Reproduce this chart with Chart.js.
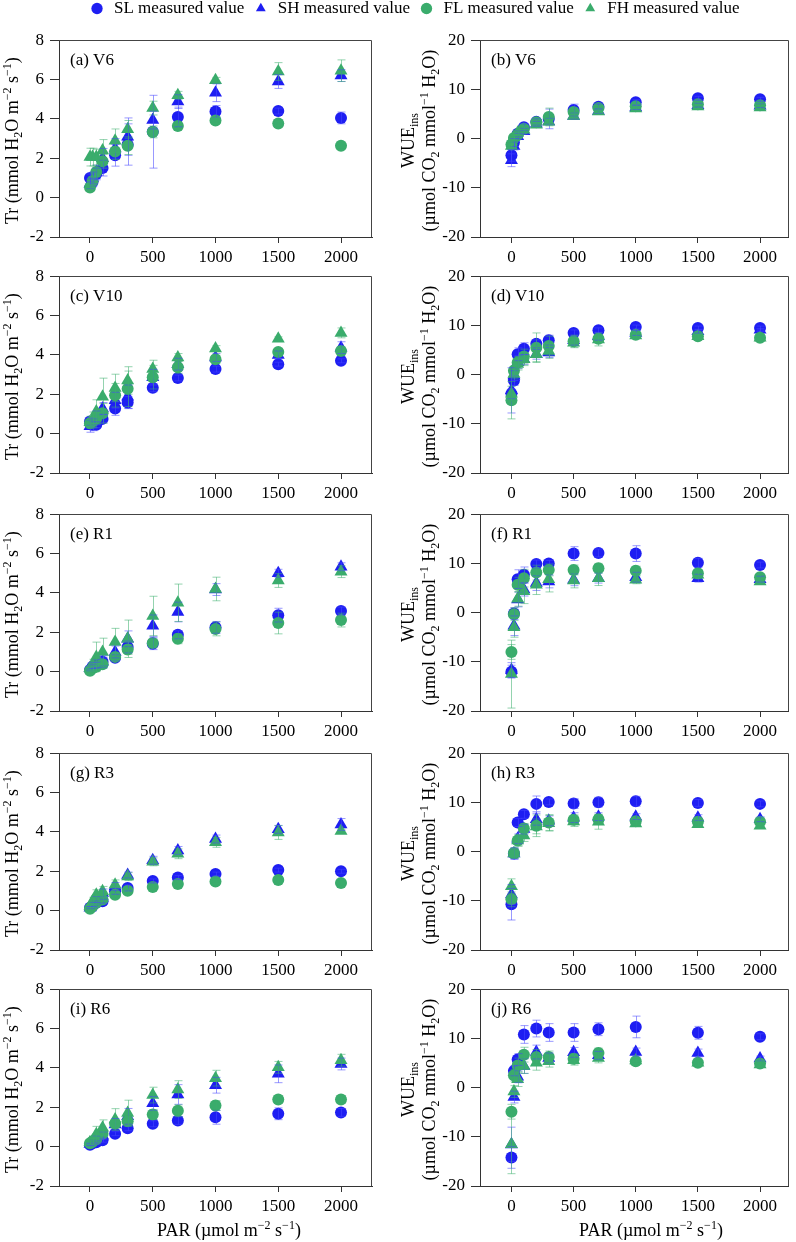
<!DOCTYPE html>
<html>
<head>
<meta charset="utf-8">
<script src="https://cdn.jsdelivr.net/npm/chart.js@4.4.0/dist/chart.umd.min.js"></script>
<style>
	body { margin: 0; background: #fff; width: 796px; height: 1242px; position: relative; overflow: hidden; }
	canvas { position: absolute; }
</style>
</head>
<body>
<canvas id="legend" width="796" height="90" style="left:0;top:-8px"></canvas>
<script>
// PAR levels (x axis)
const par = [0, 20, 50, 100, 200, 300, 500, 700, 1000, 1500, 2000]
const xTicks = [0, 500, 1000, 1500, 2000]
const trTicks = [-2, 0, 2, 4, 6, 8]
const wueTicks = [-20, -10, 0, 10, 20]
const seriesNames = ["SL measured value", "SH measured value", "FL measured value", "FH measured value"]

// Tr, V6
const tr_V6_SL = [1.0, 0.8, 1.2, 1.5, 2.15, 2.7, 3.35, 4.1, 4.38, 4.4, 4.05]
const tr_V6_SH = [0.7, 1.0, 1.3, 2.0, 2.5, 3.1, 3.94, 4.88, 5.33, 5.9, 6.2]
const tr_V6_FL = [0.52, 0.85, 1.3, 1.85, 2.34, 2.64, 3.34, 3.64, 3.92, 3.77, 2.64]
const tr_V6_FH = [2.06, 2.06, 2.06, 2.4, 2.89, 3.47, 4.55, 5.2, 5.96, 6.41, 6.45]
const tr_V6_SL_err = [0.2, 0.2, 0.3, 0.4, 0.55, 1.05, 1.85, 0.5, 0.3, 0.15, 0.3]
const tr_V6_SH_err = [0.25, 0.3, 0.35, 0.5, 0.5, 0.95, 0.45, 0.35, 0.45, 0.35, 0.3]
const tr_V6_FL_err = [0.1, 0.2, 0.25, 0.35, 0.4, 0.45, 0.3, 0.15, 0.15, 0.1, 0.1]
const tr_V6_FH_err = [0.45, 0.45, 0.4, 0.55, 0.6, 0.45, 0.35, 0.2, 0.15, 0.45, 0.55]

// WUEins, V6
const wue_V6_SL = [-3.4, -0.8, 1.0, 2.3, 3.4, 4.0, 5.8, 6.45, 7.4, 8.2, 8.0]
const wue_V6_SH = [-4.4, -1.5, 0.5, 1.5, 3.0, 3.5, 4.6, 5.6, 6.3, 6.8, 6.7]
const wue_V6_FL = [-1.2, 0.1, 0.8, 2.0, 3.3, 4.4, 5.4, 6.2, 6.6, 7.0, 6.8]
const wue_V6_FH = [-1.5, 0.3, 1.2, 1.8, 2.8, 3.4, 4.6, 5.5, 6.1, 6.5, 6.3]
const wue_V6_SL_err = [1.2, 0.8, 0.6, 0.7, 0.6, 2.0, 1.2, 0.6, 0.5, 0.4, 0.4]
const wue_V6_SH_err = [1.3, 0.8, 0.6, 0.6, 0.5, 0.6, 0.6, 0.5, 0.4, 0.4, 0.4]
const wue_V6_FL_err = [0.6, 0.5, 0.5, 0.6, 0.5, 1.8, 0.8, 0.5, 0.4, 0.3, 0.3]
const wue_V6_FH_err = [0.6, 0.5, 0.5, 0.5, 0.5, 0.6, 0.6, 0.5, 0.4, 0.4, 0.4]

// Tr, V10
const tr_V10_SL = [0.62, 0.45, 0.45, 0.75, 1.28, 1.58, 2.33, 2.83, 3.28, 3.53, 3.7]
const tr_V10_SH = [0.37, 0.45, 0.8, 1.28, 1.7, 1.87, 2.87, 3.53, 3.87, 4.0, 4.37]
const tr_V10_FL = [0.53, 0.62, 0.78, 1.03, 1.95, 2.28, 2.87, 3.37, 3.78, 4.15, 4.2]
const tr_V10_FH = [0.58, 0.7, 1.12, 1.87, 2.32, 2.7, 3.28, 3.87, 4.32, 4.82, 5.12]
const tr_V10_SL_err = [0.2, 0.15, 0.15, 0.2, 0.35, 0.3, 0.2, 0.15, 0.15, 0.1, 0.1]
const tr_V10_SH_err = [0.3, 0.3, 0.35, 0.3, 0.4, 0.6, 0.4, 0.3, 0.2, 0.2, 0.3]
const tr_V10_FL_err = [0.15, 0.2, 0.3, 0.5, 0.6, 0.9, 0.6, 0.3, 0.2, 0.15, 0.2]
const tr_V10_FH_err = [0.3, 0.4, 0.6, 0.95, 0.7, 0.7, 0.45, 0.2, 0.15, 0.1, 0.25]

// WUEins, V10
const wue_V10_SL = [-3.9, -1.2, 4.13, 5.27, 6.27, 7.0, 8.47, 9.0, 9.67, 9.47, 9.47]
const wue_V10_SH = [-3.2, -0.2, 2.5, 3.1, 4.13, 4.47, 7.0, 7.8, 8.47, 8.8, 9.1]
const wue_V10_FL = [-5.2, 0.8, 2.47, 3.67, 5.47, 5.8, 6.8, 7.27, 8.1, 7.8, 7.47]
const wue_V10_FH = [-3.87, 0.13, 2.13, 3.13, 4.13, 4.8, 6.47, 7.13, 7.93, 7.8, 7.47]
const wue_V10_SL_err = [1.0, 1.0, 1.3, 1.2, 0.8, 1.0, 0.6, 0.5, 0.4, 0.4, 0.4]
const wue_V10_SH_err = [4.6, 1.0, 1.3, 1.0, 1.0, 1.0, 1.0, 0.8, 0.5, 0.4, 0.3]
const wue_V10_FL_err = [3.8, 1.0, 1.2, 1.5, 3.0, 2.0, 1.2, 0.8, 0.4, 0.4, 0.3]
const wue_V10_FH_err = [1.5, 1.0, 1.2, 1.3, 1.5, 1.5, 1.0, 1.3, 0.5, 0.4, 0.4]

// Tr, R1
const tr_R1_SL = [0.08, 0.25, 0.33, 0.5, 0.7, 1.25, 1.42, 1.87, 2.25, 2.87, 3.08]
const tr_R1_SH = [0.17, 0.3, 0.42, 0.5, 1.0, 1.67, 2.33, 3.03, 4.17, 5.0, 5.33]
const tr_R1_FL = [0.05, 0.17, 0.25, 0.38, 0.75, 1.13, 1.45, 1.67, 2.17, 2.47, 2.62]
const tr_R1_FH = [0.17, 0.33, 0.75, 1.0, 1.5, 1.67, 2.83, 3.5, 4.2, 4.63, 5.08]
const tr_R1_SL_err = [0.05, 0.1, 0.15, 0.2, 0.15, 0.3, 0.3, 0.2, 0.3, 0.35, 0.2]
const tr_R1_SH_err = [0.1, 0.15, 0.2, 0.3, 0.3, 0.4, 0.55, 0.5, 0.3, 0.2, 0.2]
const tr_R1_FL_err = [0.05, 0.1, 0.15, 0.2, 0.2, 0.25, 0.2, 0.25, 0.35, 0.55, 0.35]
const tr_R1_FH_err = [0.1, 0.3, 0.75, 0.7, 0.7, 0.95, 1.0, 0.95, 0.6, 0.35, 0.3]

// WUEins, R1
const wue_R1_SL = [-12.0, -0.2, 6.8, 7.67, 9.87, 10.0, 12.0, 12.13, 12.0, 10.13, 9.67]
const wue_R1_SH = [-11.67, -2.67, 2.67, 4.67, 6.0, 6.33, 6.67, 7.0, 7.2, 7.0, 6.8]
const wue_R1_FL = [-8.0, -0.33, 5.67, 7.0, 8.13, 8.67, 8.67, 9.0, 8.53, 8.0, 7.2]
const wue_R1_FH = [-12.5, -3.0, 2.8, 4.33, 5.67, 6.8, 6.53, 7.0, 6.67, 7.67, 6.33]
const wue_R1_SL_err = [1.3, 1.2, 1.9, 1.6, 0.8, 0.6, 1.4, 0.8, 1.6, 0.9, 0.6]
const wue_R1_SH_err = [1.5, 2.0, 1.5, 1.3, 1.5, 1.3, 1.2, 1.0, 1.0, 0.8, 0.6]
const wue_R1_FL_err = [1.5, 1.3, 1.5, 1.8, 1.5, 1.2, 1.0, 1.0, 0.9, 0.7, 0.6]
const wue_R1_FH_err = [6.9, 2.0, 1.5, 2.5, 2.0, 2.6, 1.5, 1.5, 0.8, 0.8, 0.6]

// Tr, R3
const tr_R3_SL = [0.15, 0.23, 0.4, 0.48, 0.98, 1.15, 1.51, 1.68, 1.86, 2.06, 2.0]
const tr_R3_SH = [0.15, 0.32, 0.56, 0.9, 1.23, 1.81, 2.56, 3.06, 3.64, 4.13, 4.38]
const tr_R3_FL = [0.1, 0.23, 0.4, 0.56, 0.81, 1.01, 1.2, 1.35, 1.48, 1.56, 1.4]
const tr_R3_FH = [0.23, 0.48, 0.81, 0.98, 1.31, 1.73, 2.48, 2.89, 3.47, 3.97, 4.05]
const tr_R3_SL_err = [0.05, 0.08, 0.1, 0.1, 0.15, 0.15, 0.1, 0.1, 0.1, 0.1, 0.1]
const tr_R3_SH_err = [0.05, 0.1, 0.15, 0.2, 0.2, 0.15, 0.2, 0.2, 0.2, 0.2, 0.3]
const tr_R3_FL_err = [0.05, 0.08, 0.1, 0.1, 0.12, 0.1, 0.1, 0.1, 0.1, 0.15, 0.1]
const tr_R3_FH_err = [0.1, 0.2, 0.25, 0.25, 0.25, 0.2, 0.2, 0.25, 0.25, 0.35, 0.1]

// WUEins, R3
const wue_R3_SL = [-10.7, -0.4, 5.9, 7.57, 9.7, 10.1, 9.77, 10.03, 10.23, 9.9, 9.7]
const wue_R3_SH = [-8.7, -0.4, 2.6, 4.58, 6.58, 6.25, 6.9, 7.1, 7.1, 6.9, 6.58]
const wue_R3_FL = [-9.7, -0.27, 2.26, 4.72, 5.25, 5.9, 6.45, 6.58, 6.18, 6.05, 6.05]
const wue_R3_FH = [-7.04, -0.4, 2.26, 3.26, 5.12, 5.78, 6.11, 6.05, 5.71, 5.58, 5.25]
const wue_R3_SL_err = [3.2, 1.0, 0.8, 0.8, 1.6, 0.6, 1.0, 1.0, 1.0, 0.7, 0.6]
const wue_R3_SH_err = [2.0, 1.2, 1.0, 1.0, 1.2, 1.0, 1.0, 0.8, 0.6, 0.6, 0.5]
const wue_R3_FL_err = [1.5, 1.0, 1.2, 1.0, 2.2, 1.6, 1.0, 1.0, 0.6, 0.6, 0.5]
const wue_R3_FH_err = [1.5, 1.0, 1.0, 1.2, 1.5, 1.6, 1.0, 1.5, 0.6, 0.6, 0.5]

// Tr, R6
const tr_R6_SL = [0.1, 0.17, 0.22, 0.33, 0.66, 0.93, 1.16, 1.33, 1.49, 1.67, 1.74]
const tr_R6_SH = [0.13, 0.22, 0.38, 0.55, 1.13, 1.54, 2.2, 2.65, 3.12, 3.7, 4.2]
const tr_R6_FL = [0.17, 0.25, 0.38, 0.66, 1.16, 1.29, 1.63, 1.82, 2.09, 2.4, 2.4]
const tr_R6_FH = [0.22, 0.3, 0.63, 0.96, 1.38, 1.71, 2.62, 2.9, 3.48, 4.03, 4.39]
const tr_R6_SL_err = [0.05, 0.05, 0.08, 0.1, 0.1, 0.12, 0.15, 0.2, 0.35, 0.3, 0.2]
const tr_R6_SH_err = [0.05, 0.1, 0.15, 0.2, 0.3, 0.4, 0.35, 0.5, 0.4, 0.45, 0.3]
const tr_R6_FL_err = [0.05, 0.08, 0.1, 0.12, 0.2, 0.25, 0.25, 0.3, 0.25, 0.2, 0.2]
const tr_R6_FH_err = [0.1, 0.2, 0.4, 0.4, 0.55, 0.65, 0.4, 0.45, 0.4, 0.3, 0.3]

// WUEins, R6
const wue_R6_SL = [-14.2, 3.4, 5.7, 10.8, 12.0, 11.2, 11.2, 11.87, 12.33, 11.14, 10.34]
const wue_R6_SH = [-11.54, -1.92, 2.19, 4.38, 7.23, 6.03, 7.16, 6.56, 7.23, 7.03, 5.9]
const wue_R6_FL = [-4.9, 2.52, 4.5, 6.7, 6.23, 6.23, 5.84, 7.03, 5.37, 5.04, 4.9]
const wue_R6_FH = [-11.5, -0.8, 1.72, 4.38, 5.04, 5.37, 5.57, 6.03, 5.5, 5.04, 4.7]
const wue_R6_SL_err = [2.2, 1.0, 1.2, 1.8, 1.7, 1.8, 1.8, 1.3, 2.2, 1.3, 0.6]
const wue_R6_SH_err = [3.5, 1.2, 1.2, 1.5, 1.4, 1.0, 1.0, 0.8, 0.8, 0.8, 0.5]
const wue_R6_FL_err = [1.5, 1.2, 1.5, 1.5, 1.5, 1.2, 1.0, 1.0, 0.6, 0.5, 0.5]
const wue_R6_FH_err = [6.0, 1.2, 1.5, 1.5, 1.5, 1.2, 1.0, 1.0, 0.6, 0.5, 0.5]

const SERIF = '"Liberation Serif", "Times New Roman", serif'
const BLUE = "#1e1ef2"
const GREEN = "#3aac6c"
const seriesStyle = [
	{color: BLUE, err: "rgba(70,70,255,0.55)", shape: "circle", r: 6},
	{color: BLUE, err: "rgba(70,70,255,0.55)", shape: "triangle", r: 7.5},
	{color: GREEN, err: "rgba(60,175,110,0.55)", shape: "circle", r: 6},
	{color: GREEN, err: "rgba(60,175,110,0.55)", shape: "triangle", r: 7.5}
]

const panels = [
	{label: "(a) V6", kind: "tr", row: 0, vals: [tr_V6_SL, tr_V6_SH, tr_V6_FL, tr_V6_FH], errs: [tr_V6_SL_err, tr_V6_SH_err, tr_V6_FL_err, tr_V6_FH_err]},
	{label: "(b) V6", kind: "wue", row: 0, vals: [wue_V6_SL, wue_V6_SH, wue_V6_FL, wue_V6_FH], errs: [wue_V6_SL_err, wue_V6_SH_err, wue_V6_FL_err, wue_V6_FH_err]},
	{label: "(c) V10", kind: "tr", row: 1, vals: [tr_V10_SL, tr_V10_SH, tr_V10_FL, tr_V10_FH], errs: [tr_V10_SL_err, tr_V10_SH_err, tr_V10_FL_err, tr_V10_FH_err]},
	{label: "(d) V10", kind: "wue", row: 1, vals: [wue_V10_SL, wue_V10_SH, wue_V10_FL, wue_V10_FH], errs: [wue_V10_SL_err, wue_V10_SH_err, wue_V10_FL_err, wue_V10_FH_err]},
	{label: "(e) R1", kind: "tr", row: 2, vals: [tr_R1_SL, tr_R1_SH, tr_R1_FL, tr_R1_FH], errs: [tr_R1_SL_err, tr_R1_SH_err, tr_R1_FL_err, tr_R1_FH_err]},
	{label: "(f) R1", kind: "wue", row: 2, vals: [wue_R1_SL, wue_R1_SH, wue_R1_FL, wue_R1_FH], errs: [wue_R1_SL_err, wue_R1_SH_err, wue_R1_FL_err, wue_R1_FH_err]},
	{label: "(g) R3", kind: "tr", row: 3, vals: [tr_R3_SL, tr_R3_SH, tr_R3_FL, tr_R3_FH], errs: [tr_R3_SL_err, tr_R3_SH_err, tr_R3_FL_err, tr_R3_FH_err]},
	{label: "(h) R3", kind: "wue", row: 3, vals: [wue_R3_SL, wue_R3_SH, wue_R3_FL, wue_R3_FH], errs: [wue_R3_SL_err, wue_R3_SH_err, wue_R3_FL_err, wue_R3_FH_err]},
	{label: "(i) R6", kind: "tr", row: 4, vals: [tr_R6_SL, tr_R6_SH, tr_R6_FL, tr_R6_FH], errs: [tr_R6_SL_err, tr_R6_SH_err, tr_R6_FL_err, tr_R6_FH_err]},
	{label: "(j) R6", kind: "wue", row: 4, vals: [wue_R6_SL, wue_R6_SH, wue_R6_FL, wue_R6_FH], errs: [wue_R6_SL_err, wue_R6_SH_err, wue_R6_FL_err, wue_R6_FH_err]}
]

const rowTops = [36, 272, 510, 749, 985]

// axis titles with sub/superscripts
const seg = (t, k) => ({t, k: k || "n"})
const trTitle = [seg("Tr (mmol H"), seg("2", "sub"), seg("O m"), seg("\u22122", "sup"), seg(" s"), seg("\u22121", "sup"), seg(")")]
const wueTitle1 = [seg("WUE"), seg("ins", "sub")]
const wueTitle2 = [seg("(\u00b5mol CO"), seg("2", "sub"), seg(" mmol"), seg("\u22121", "sup"), seg(" H"), seg("2", "sub"), seg("O)")]
const parTitle = [seg("PAR (\u00b5mol m"), seg("\u22122", "sup"), seg(" s"), seg("\u22121", "sup"), seg(")")]

const drawRich = (ctx, parts, cx, cy, size, rot) => {
	const fontOf = k => (k === "n" ? size : Math.round(size * 0.68)) + "px " + SERIF
	ctx.save()
	ctx.translate(cx, cy)
	if (rot) ctx.rotate(-Math.PI / 2)
	let w = 0
	const ws = parts.map(p => { ctx.font = fontOf(p.k); const m = ctx.measureText(p.t).width; w += m; return m })
	let x = -w / 2
	ctx.fillStyle = "#000"
	ctx.textBaseline = "alphabetic"
	ctx.textAlign = "left"
	parts.forEach((p, i) => {
		ctx.font = fontOf(p.k)
		const dy = p.k === "sub" ? size * 0.22 : p.k === "sup" ? -size * 0.38 : 0
		ctx.fillText(p.t, x, size * 0.33 + dy)
		x += ws[i]
	})
	ctx.restore()
}

const makeDeco = (p, left, last) => ({
	id: "deco",
	afterDatasetsDraw(chart) {
		const {ctx, chartArea: a} = chart
		const xs = chart.scales.x, ys = chart.scales.y
		ctx.save()
		// error bars
		p.errs.forEach((e, k) => {
			ctx.strokeStyle = seriesStyle[k].err
			ctx.lineWidth = 1
			par.forEach((px, j) => {
				const cx = Math.round(xs.getPixelForValue(px)) + 0.5
				const y1 = ys.getPixelForValue(p.vals[k][j] + e[j])
				const y2 = ys.getPixelForValue(p.vals[k][j] - e[j])
				ctx.beginPath()
				ctx.moveTo(cx, y1); ctx.lineTo(cx, y2)
				ctx.moveTo(cx - 4, y1); ctx.lineTo(cx + 4, y1)
				ctx.moveTo(cx - 4, y2); ctx.lineTo(cx + 4, y2)
				ctx.stroke()
			})
		})
		// box frame (top and right)
		ctx.strokeStyle = "#444"
		ctx.beginPath()
		ctx.moveTo(a.left, Math.round(a.top) + 0.5)
		ctx.lineTo(Math.round(a.right) - 0.5, Math.round(a.top) + 0.5)
		ctx.lineTo(Math.round(a.right) - 0.5, a.bottom)
		ctx.stroke()
		// panel label
		ctx.fillStyle = "#000"
		ctx.font = "17px " + SERIF
		ctx.textBaseline = "middle"
		ctx.fillText(p.label, a.left + 11, a.top + 20)
		ctx.restore()
		// axis titles
		const cy = a.top + a.height / 2 + 2
		if (left) {
			drawRich(ctx, trTitle, 12, cy, 18, true)
		} else {
			drawRich(ctx, wueTitle1, 12, cy, 18, true)
			drawRich(ctx, wueTitle2, 33, cy, 18, true)
		}
		if (last) drawRich(ctx, parTitle, left ? 229 : 255, a.bottom + 44, 18, false)
	}
})

panels.forEach(p => {
	const left = p.kind === "tr"
	const last = p.row === 4
	const cv = document.createElement("canvas")
	cv.width = left ? 396 : 400
	cv.height = 213 + (last ? 60 : 30)
	cv.style.left = (left ? 0 : 396) + "px"
	cv.style.top = (rowTops[p.row] - 12) + "px"
	document.body.appendChild(cv)
	new Chart(cv, {
		type: "scatter",
		data: {
			datasets: p.vals.map((v, k) => ({
				label: seriesNames[k],
				data: par.map((x, j) => ({x: x, y: v[j]})),
				pointStyle: seriesStyle[k].shape,
				pointRadius: seriesStyle[k].r,
				pointHoverRadius: seriesStyle[k].r,
				backgroundColor: seriesStyle[k].color,
				borderColor: seriesStyle[k].color,
				borderWidth: 0,
				order: 3 - k
			}))
		},
		options: {
			responsive: false,
			animation: false,
			layout: {padding: {top: 12, right: left ? 24 : 5, left: 0, bottom: 0}},
			plugins: {legend: {display: false}, tooltip: {enabled: false}},
			scales: {
				x: {
					type: "linear",
					min: left ? -247 : -253,
					max: left ? 2247 : 2229,
					afterBuildTicks: s => { s.ticks = xTicks.map(v => ({value: v})) },
					afterFit: s => { s.height = last ? 60 : 30 },
					grid: {drawOnChartArea: false, tickLength: 6, color: "#333"},
					border: {color: "#333"},
					ticks: {font: {family: SERIF, size: 17}, color: "#000", padding: 4, maxRotation: 0, autoSkip: false, callback: v => String(v)}
				},
				y: {
					type: "linear",
					min: left ? -2 : -20,
					max: left ? 8 : 20,
					afterBuildTicks: s => { s.ticks = (left ? trTicks : wueTicks).map(v => ({value: v})) },
					afterFit: s => { s.width = left ? 59 : 84 },
					grid: {drawOnChartArea: false, tickLength: 9, color: "#333"},
					border: {color: "#333"},
					ticks: {font: {family: SERIF, size: 17}, color: "#000", padding: 6, callback: v => String(v)}
				}
			}
		},
		plugins: [makeDeco(p, left, last)]
	})
})

// shared legend on top
new Chart(document.getElementById("legend"), {
	type: "scatter",
	data: {datasets: seriesNames.map((n, k) => ({label: n, data: [], backgroundColor: seriesStyle[k].color}))},
	options: {
		responsive: false,
		animation: false,
		layout: {padding: {left: 32}},
		scales: {x: {display: false}, y: {display: false}},
		plugins: {
			tooltip: {enabled: false},
			legend: {
				labels: {
					usePointStyle: true,
					boxWidth: 17,
					boxHeight: 8,
					padding: 8,
					color: "#000",
					font: {family: SERIF, size: 17},
					generateLabels: () => seriesNames.map((n, k) => ({
						text: n,
						fillStyle: seriesStyle[k].color,
						strokeStyle: seriesStyle[k].color,
						lineWidth: 0,
						pointStyle: seriesStyle[k].shape,
						hidden: false,
						datasetIndex: k
					}))
				}
			}
		}
	}
})
</script>
</body>
</html>
